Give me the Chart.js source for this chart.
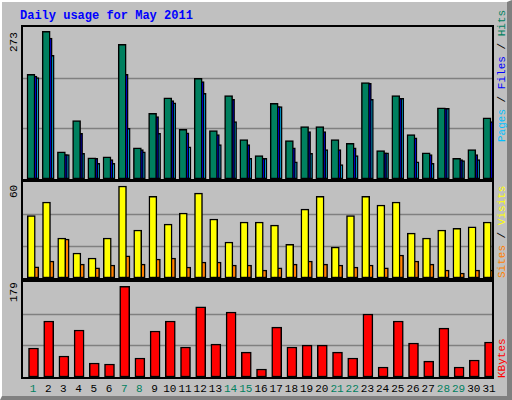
<!DOCTYPE html>
<html><head><meta charset="utf-8">
<script src="https://cdn.jsdelivr.net/npm/chart.js@4"></script>
<style>
body{margin:0;background:#fff;}
#frame{position:absolute;left:0;top:0;background:#C0C0C0;border-left:2px solid #fff;border-top:2px solid #fff;border-right:5px solid #808080;border-bottom:4px solid #808080;box-sizing:border-box;width:512px;height:400px;font-family:"Liberation Mono",monospace;}
.box{position:absolute;border:2px solid #000;box-sizing:border-box;}
canvas{position:absolute;}
.t{position:absolute;white-space:nowrap;font-size:11px;}
.rot{position:absolute;transform-origin:0 0;transform:rotate(-90deg);white-space:nowrap;font-size:11px;}
</style></head><body>
<div id="frame">
<div class="t" style="left:18px;top:7px;color:#0000FF;font-weight:bold;font-size:12px;">Daily usage for May 2011</div>
<div class="box" style="left:19px;top:23px;width:473px;height:156px;"></div>
<div class="box" style="left:19px;top:178px;width:473px;height:100px;"></div>
<div class="box" style="left:19px;top:278px;width:473px;height:99px;"></div>
<canvas id="c1" width="469" height="152" style="left:21px;top:25px"></canvas>
<canvas id="c2" width="469" height="96" style="left:21px;top:180px"></canvas>
<canvas id="c3" width="469" height="95" style="left:21px;top:280px"></canvas>
<div class="rot" style="left:6px;top:50px;color:#000;">273</div>
<div class="rot" style="left:6px;top:196px;color:#000;">60</div>
<div class="rot" style="left:6px;top:300px;color:#000;">179</div>
<div class="rot" style="left:494px;top:140px;"><span style="color:#00C0FF">Pages</span> / <span style="color:#0000FF">Files</span> / <span style="color:#00805F">Hits</span></div>
<div class="rot" style="left:494px;top:276px;"><span style="color:#FF8000">Sites</span> / <span style="color:#FFFF00">Visits</span></div>
<div class="rot" style="left:494px;top:376px;"><span style="color:#FF0000">KBytes</span></div>
<div id="days"></div>
</div>
<script>
const days=[1,2,3,4,5,6,7,8,9,10,11,12,13,14,15,16,17,18,19,20,21,22,23,24,25,26,27,28,29,30,31];
const weekend=[1,7,8,14,15,21,22,28,29];
const hits=[188,265,49,105,38,40,242,56,118,146,89,181,87,150,71,42,136,69,94,94,71,64,173,51,150,80,47,128,37,53,110];
const files=[185,253,44,82,37,35,188,53,112,141,83,175,80,143,62,37,130,56,85,85,53,56,172,47,145,74,44,127,35,44,103];
const pages=[182,222,44,46,28,28,91,49,82,137,58,154,62,103,37,37,130,31,46,53,26,42,143,47,145,31,28,127,33,35,69];
const visits=[39,47.5,25,15.6,12.5,25,57.5,30,51,33.7,40.6,53,36.9,22.5,35,35,33,21,43,51,19.4,39,51,45.6,47.5,28,25,30,31,32,35];
const sites=[7,10.6,24.4,8.7,6.3,8.1,13.8,8.7,11.9,12.5,6.9,10,10,8.1,8.1,5,6.3,8.7,10.6,8.7,8.1,6.9,8.1,6.3,14.4,10.6,8.7,5,3.1,5,5];
const kbytes=[54.6,105.5,39.6,88.6,26.4,24.5,171,35.8,86.7,105.5,56.5,132,62,122.5,47,15,94,56.5,60,60,47,35.8,118.7,18.8,105.5,64,30,92,18.8,32,66];
const maxes=[273,60,179];

const dayPx=15.2;
const xmin=1-(33-21)/dayPx, xmax=xmin+469/dayPx;
const grid={id:'g',beforeDatasetsDraw(c){const y=c.scales.y,ctx=c.ctx;ctx.save();ctx.strokeStyle='#808080';ctx.lineWidth=1.5;
 const m=y.max;[m/3,2*m/3].forEach(v=>{const p=Math.round(y.getPixelForValue(v))+0.5;ctx.beginPath();ctx.moveTo(0,p);ctx.lineTo(c.width,p);ctx.stroke();});ctx.restore();}};
function ds(vals,color,offPx,w){return{data:vals.map((v,i)=>({x:days[i]+offPx/dayPx,y:v})),backgroundColor:color,borderColor:'#000',borderWidth:1.5,barThickness:w,grouped:false,borderSkipped:false};}
function mk(id,sets,max){new Chart(document.getElementById(id),{type:'bar',data:{datasets:sets},
 options:{responsive:false,animation:false,devicePixelRatio:1,layout:{padding:0},
 plugins:{legend:{display:false},tooltip:{enabled:false}},
 scales:{x:{type:'linear',min:xmin,max:xmax,offset:false,bounds:'ticks',display:false},y:{min:0,max:max,display:false}}},plugins:[grid]});}
mk('c1',[ds(hits,'#00805F',-4,8),ds(files,'#0000FF',-2,8),ds(pages,'#00C0FF',0,8)],maxes[0]);
mk('c2',[ds(visits,'#FFFF00',-3.7,8),ds(sites,'#FF8000',-0.2,8)],maxes[1]);
mk('c3',[ds(kbytes,'#FF0000',-1.5,10)],maxes[2]);
const dd=document.getElementById('days');
days.forEach(d=>{const e=document.createElement('div');e.className='t';e.textContent=d;
 e.style.color=weekend.includes(d)?'#00805F':'#000';e.style.left=(31+(d-1)*dayPx)+'px';e.style.top='381px';e.style.transform='translateX(-50%)';dd.appendChild(e);});
</script>
</body></html>
